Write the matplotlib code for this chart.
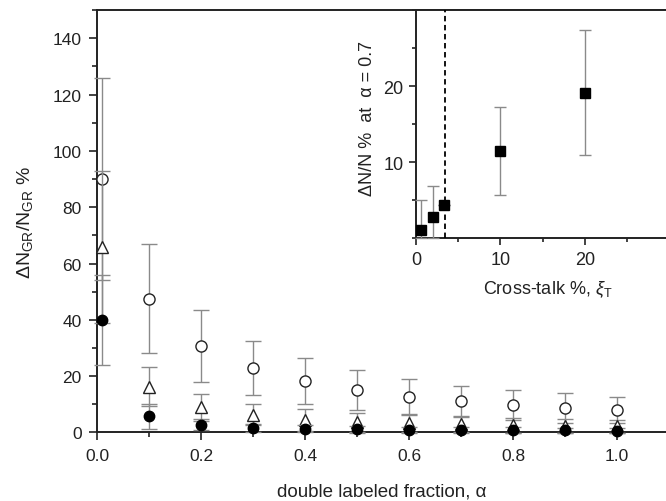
import matplotlib
matplotlib.use("Agg")
import matplotlib.pyplot as plt
from matplotlib.ticker import MultipleLocator

plt.rcParams['font.family'] = ['Liberation Sans', 'DejaVu Sans']
plt.rcParams['mathtext.fontset'] = 'custom'
plt.rcParams['mathtext.rm'] = 'Liberation Sans'
plt.rcParams['mathtext.it'] = 'Liberation Sans:italic'

# main panel: relative error vs double labeled fraction
alpha = [0.01, 0.1, 0.2, 0.3, 0.4, 0.5, 0.6, 0.7, 0.8, 0.9, 1.0]

open_circ = [90, 47.5, 30.8, 22.9, 18.2, 15.1, 12.7, 11.1, 9.8, 8.7, 8.0]
open_circ_err = [36, 19.3, 12.8, 9.7, 8.2, 7.2, 6.2, 5.5, 5.4, 5.2, 4.7]

tri = [66, 16.3, 8.9, 6.3, 4.5, 3.6, 3.2, 2.9, 2.6, 2.4, 2.2]
tri_err = [27, 7.0, 4.8, 3.8, 4.0, 3.3, 3.0, 2.9, 2.7, 2.5, 2.4]

filled = [40, 5.8, 2.8, 1.6, 1.3, 1.1, 1.0, 0.9, 0.8, 0.8, 0.7]
filled_err = [16, 4.4, 2.0, 1.5, 1.3, 1.2, 1.1, 1.0, 1.0, 0.9, 0.9]

# inset: error at alpha = 0.7 vs cross-talk
xtalk = [0.6, 2.0, 3.35, 10, 20]
dn = [1.0, 2.75, 4.4, 11.5, 19.1]
dn_lo = [1.0, 2.75, 0.0, 5.8, 8.2]
dn_hi = [4.0, 4.05, 0.0, 5.8, 8.3]
xtalk_cut = 3.4

ink = '#222222'
errc = '#8a8a8a'

fig = plt.figure(figsize=(6.66, 5.02), dpi=100)
ax = fig.add_axes([0.1456, 0.1365, 0.859, 0.8415])

ax.errorbar(alpha, open_circ, yerr=open_circ_err, fmt='o', ms=8, mfc='white',
            mec=ink, mew=1.0, ecolor=errc, elinewidth=1.0, capsize=6,
            capthick=1.0, clip_on=False, zorder=3)
ax.errorbar(alpha, tri, yerr=tri_err, fmt='^', ms=8.5, mfc='white',
            mec=ink, mew=1.0, ecolor=errc, elinewidth=1.0, capsize=6,
            capthick=1.0, clip_on=False, zorder=4)
ax.errorbar(alpha, filled, yerr=filled_err, fmt='o', ms=7.5, mfc='black',
            mec='black', ecolor=errc, elinewidth=1.0, capsize=6,
            capthick=1.0, clip_on=False, zorder=5)

ax.set_xlim(0, 1.1)
ax.set_ylim(0, 150)
ax.set_xticks([0, 0.2, 0.4, 0.6, 0.8, 1.0])
ax.xaxis.set_minor_locator(MultipleLocator(0.1))
ax.yaxis.set_major_locator(MultipleLocator(20))
ax.yaxis.set_minor_locator(MultipleLocator(10))
ax.xaxis.set_major_formatter(plt.FormatStrFormatter('%.1f'))
ax.tick_params(which='major', direction='out', length=6, width=1.2,
               labelsize=12.5, colors=ink, pad=5)
ax.tick_params(which='minor', direction='out', length=3.5, width=1.2, colors=ink)
for s in ['left', 'bottom', 'top', 'right']:
    ax.spines[s].set_linewidth(1.4)
    ax.spines[s].set_color(ink)

ax.set_xlabel('double labeled fraction, α', fontsize=13.5, color=ink, va='top')
ax.xaxis.set_label_coords(0.498, -0.118)
ax.set_ylabel(r'$\Delta$N$_{\rm GR}$/N$_{\rm GR}$ %', fontsize=14, color=ink,
              va='center')
ax.yaxis.set_label_coords(-0.125, 0.5)

# inset
ins = fig.add_axes([0.6246, 0.5239, 0.3806, 0.4541])
ins.errorbar(xtalk, dn, yerr=[dn_lo, dn_hi], fmt='s', ms=7, mfc='black',
             mec='black', ecolor=errc, elinewidth=1.0, capsize=4,
             capthick=1.0, clip_on=False, zorder=4)
ins.axvline(xtalk_cut, color='black', ls=(0, (3, 2)), lw=1.3, zorder=3)
ins.set_xlim(0, 30)
ins.set_ylim(0, 30)
ins.set_xticks([0, 10, 20])
ins.xaxis.set_minor_locator(MultipleLocator(5))
ins.set_yticks([10, 20])
ins.yaxis.set_minor_locator(MultipleLocator(5))
ins.tick_params(which='major', direction='out', length=5, width=1.2,
                labelsize=13, colors=ink, pad=4)
ins.tick_params(which='minor', direction='out', length=3, width=1.2, colors=ink)
for s in ['left', 'bottom', 'top', 'right']:
    ins.spines[s].set_linewidth(1.4)
    ins.spines[s].set_color(ink)
ins.set_xlabel(r'Cross-talk %, $\xi_{\rm T}$', fontsize=13, color=ink, va='center')
ins.xaxis.set_label_coords(0.52, -0.224)
ins.set_ylabel('ΔN/N %  at  α = 0.7', fontsize=13, color=ink, va='center')
ins.yaxis.set_label_coords(-0.19, 0.53)

fig.savefig('out.png', dpi=100)
